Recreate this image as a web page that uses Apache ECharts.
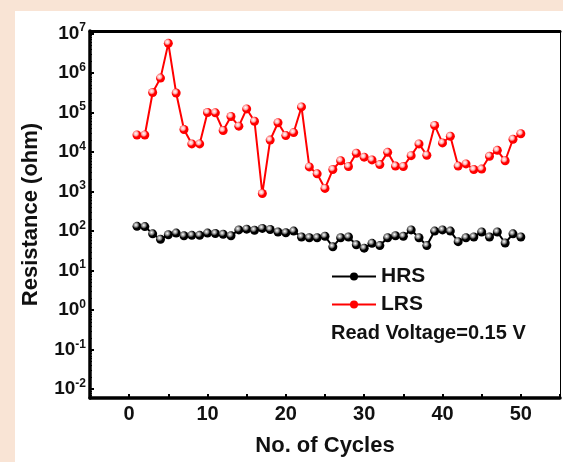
<!DOCTYPE html>
<html>
<head>
<meta charset="utf-8">
<script src="https://cdn.jsdelivr.net/npm/echarts@6/dist/echarts.min.js"></script>
<style>
  html, body { margin: 0; padding: 0; background: #f9e4d5; }
  #chart { width: 563px; height: 462px; }
</style>
</head>
<body>
<div id="chart"></div>
<script>
const cycles = Array.from({ length: 50 }, (_, i) => i + 1);

// resistance in ohm
const hrsValues = [
  132, 130, 85, 62, 81, 89, 76, 78, 78, 89,
  87, 83, 76, 107, 112, 105, 117, 110, 95, 91,
  100, 71, 68, 68, 74, 40, 68, 71, 45, 37,
  49, 43, 68, 76, 74, 107, 68, 43, 100, 107,
  100, 54, 68, 71, 95, 71, 95, 50, 85, 71
];
const lrsValues = [
  27000, 27000, 320000, 740000, 5600000, 310000, 37000, 16000, 16000, 100000,
  98000, 35000, 79000, 45000, 123000, 60000, 890, 20000, 55000, 26000,
  31000, 138000, 4200, 2800, 1200, 3600, 6000, 4300, 9300, 7400,
  6300, 4800, 9800, 4400, 4300, 8100, 16000, 8300, 47000, 17000,
  25000, 4400, 5000, 3600, 3700, 7800, 11000, 6000, 21000, 29000
];
const xTicks = [0, 10, 20, 30, 40, 50];
const seriesNames = ["HRS", "LRS"];
const noteText = "Read Voltage=0.15 V";

const font = "'Liberation Sans', Arial, sans-serif";

function sphere(color) {
  return {
    type: "radial", x: 0.38, y: 0.35, r: 0.65,
    colorStops: [
      { offset: 0, color: "#ffffff" },
      { offset: 0.35, color: color === "#000" ? "#888" : "#ffb0b0" },
      { offset: 0.6, color: color },
      { offset: 1, color: color }
    ]
  };
}

function pairs(values) {
  return values.map((v, i) => [cycles[i], v]);
}

const chart = echarts.init(document.getElementById("chart"));

chart.setOption({
  backgroundColor: "#f9e4d5",
  animation: false,
  graphic: [
    { type: "rect", z: -10, shape: { x: 15, y: 11, width: 548, height: 451 }, style: { fill: "#ffffff" } },
    {
      type: "text", left: 331, top: 323,
      style: { text: noteText, fill: "#111", font: "bold 20px " + font }
    }
  ],
  grid: { left: 90, right: 2, top: 31, bottom: 55 },
  legend: {
    orient: "vertical",
    left: 326, top: 261,
    itemWidth: 44, itemHeight: 10, itemGap: 7,
    textStyle: { fontFamily: font, fontWeight: "bold", fontSize: 21, color: "#111" },
    data: seriesNames.map((n) => ({ name: n, itemStyle: { color: n === "HRS" ? "#000" : "#ff0000" } }))
  },
  xAxis: [
    {
      type: "value", min: -5, max: 55, interval: 5,
      name: "No. of Cycles", nameLocation: "middle", nameGap: 37,
      nameTextStyle: { fontFamily: font, fontWeight: "bold", fontSize: 22, color: "#111" },
      axisLine: { onZero: false, lineStyle: { color: "#000", width: 3.5 } },
      axisTick: { inside: true, length: 4, lineStyle: { color: "#000", width: 2 } },
      axisLabel: {
        margin: 6, fontFamily: font, fontWeight: "bold", fontSize: 20, color: "#111",
        formatter: (v) => (xTicks.includes(v) ? String(v) : "")
      },
      splitLine: { show: false }
    },
    {
      type: "value", position: "top", min: -5, max: 55,
      axisLine: { onZero: false, lineStyle: { color: "#000", width: 3 } },
      axisTick: { show: false }, axisLabel: { show: false }, splitLine: { show: false }
    }
  ],
  yAxis: [
    {
      type: "log", min: 0.006, max: 1.15e7, splitNumber: 9,
      name: "Resistance (ohm)", nameLocation: "middle", nameGap: 48,
      nameTextStyle: { fontFamily: font, fontWeight: "bold", fontSize: 22, color: "#111" },
      axisLine: { onZero: false, lineStyle: { color: "#000", width: 3.5 } },
      axisTick: { inside: true, length: 4, lineStyle: { color: "#000", width: 2 } },
      minorTick: { show: true, splitNumber: 9, length: 2, lineStyle: { color: "#000", width: 1 } },
      axisLabel: {
        margin: 4,
        formatter: (v) => {
          const p = Math.log10(v);
          if (Math.abs(p - Math.round(p)) > 0.01) return "";
          return "{b|10}{s|" + Math.round(p) + "}";
        },
        rich: {
          b: { fontFamily: font, fontWeight: "bold", fontSize: 19, color: "#111" },
          s: { fontFamily: font, fontWeight: "bold", fontSize: 12, color: "#111", padding: [0, 0, 11, 0] }
        }
      },
      splitLine: { show: false }
    },
    {
      type: "log", position: "right", min: 0.006, max: 1.15e7,
      axisLine: { onZero: false, lineStyle: { color: "#000", width: 1 } },
      axisTick: { show: false }, axisLabel: { show: false }, splitLine: { show: false }
    }
  ],
  series: [
    {
      name: "HRS", type: "line", data: pairs(hrsValues),
      symbol: "circle", symbolSize: 9,
      lineStyle: { color: "#000", width: 2 },
      itemStyle: { color: sphere("#000") }
    },
    {
      name: "LRS", type: "line", data: pairs(lrsValues),
      symbol: "circle", symbolSize: 9,
      lineStyle: { color: "#ff0000", width: 2 },
      itemStyle: { color: sphere("#ff0000") }
    }
  ]
});
</script>
</body>
</html>
